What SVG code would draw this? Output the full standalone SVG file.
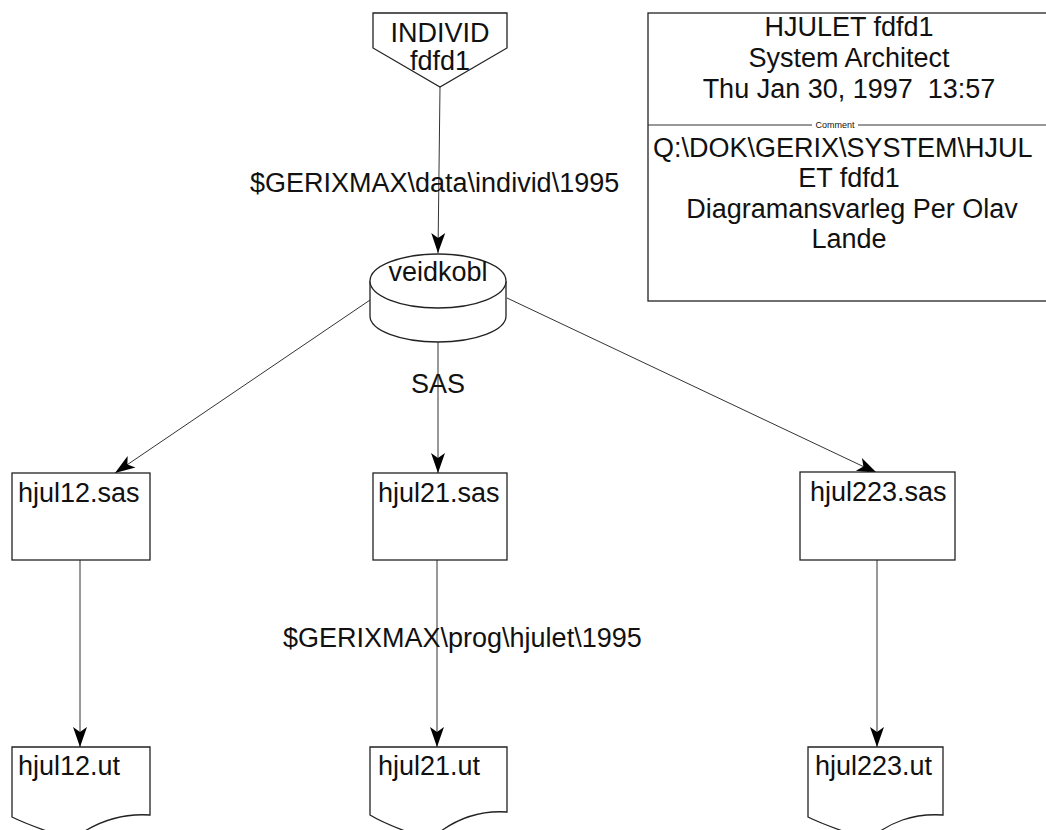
<svg xmlns="http://www.w3.org/2000/svg" width="1046" height="830" viewBox="0 0 1046 830">
<defs>
<style>
.t{font-family:"Liberation Sans",Arial,Helvetica,sans-serif;font-size:27px;fill:#111}
.c{text-anchor:middle}
.s{fill:#fff;stroke:#222;stroke-width:1.3}
.e{fill:none;stroke:#333;stroke-width:1}
</style>
<marker id="ah" markerUnits="userSpaceOnUse" markerWidth="24" markerHeight="24" viewBox="0 0 24 24" refX="22" refY="12" orient="auto">
<path d="M2,5 L22,12 L2,19 L7,12 Z" fill="#000"/>
</marker>
</defs>
<rect width="1046" height="830" fill="#fff"/>

<g id="connectors">
<line class="e" x1="440" y1="87" x2="438" y2="253" marker-end="url(#ah)"/>
<line class="e" x1="373" y1="298" x2="115" y2="473" marker-end="url(#ah)"/>
<line class="e" x1="438" y1="342" x2="438" y2="473" marker-end="url(#ah)"/>
<line class="e" x1="507" y1="298" x2="877" y2="473" marker-end="url(#ah)"/>
<line class="e" x1="80" y1="560" x2="80" y2="747" marker-end="url(#ah)"/>
<line class="e" x1="437" y1="560" x2="437" y2="747" marker-end="url(#ah)"/>
<line class="e" x1="877" y1="560" x2="877" y2="747" marker-end="url(#ah)"/>
<text class="t" x="250" y="192">$GERIXMAX\data\individ\1995</text>
<text class="t c" x="438" y="393">SAS</text>
<text class="t" x="283" y="647">$GERIXMAX\prog\hjulet\1995</text>
</g>

<g id="individ">
<polygon class="s" points="373,13 507,13 507,48 440,87 373,48"/>
<text class="t c" x="440" y="42">INDIVID</text>
<text class="t c" x="440" y="70">fdfd1</text>
</g>

<g id="veidkobl">
<path class="s" d="M370,281 L370,316 A68,26 0 0 0 506,316 L506,281"/>
<ellipse class="s" cx="438" cy="281" rx="68" ry="27"/>
<text class="t c" x="438" y="281">veidkobl</text>
</g>

<g id="hjul12sas">
<rect class="s" x="12" y="473" width="138" height="87"/>
<text class="t" x="18" y="502">hjul12.sas</text>
</g>
<g id="hjul21sas">
<rect class="s" x="373" y="473" width="134" height="87"/>
<text class="t" x="378" y="502">hjul21.sas</text>
</g>
<g id="hjul223sas">
<rect class="s" x="800" y="472" width="155" height="88"/>
<text class="t" x="810" y="501">hjul223.sas</text>
</g>

<g id="hjul12ut">
<path class="s" d="M12,747 H150 V815 C120,813 95,822 72,840 C50,832 30,826 12,817 Z"/>
<text class="t" x="18" y="775">hjul12.ut</text>
</g>
<g id="hjul21ut">
<path class="s" d="M370,747 H507 V812 C477,810 452,820 430,840 C408,832 388,826 370,815 Z"/>
<text class="t" x="378" y="775">hjul21.ut</text>
</g>
<g id="hjul223ut">
<path class="s" d="M808,747 H943 V815 C913,813 890,822 868,840 C846,832 826,826 808,817 Z"/>
<text class="t" x="815" y="775">hjul223.ut</text>
</g>

<g id="commentbox">
<rect class="s" x="648" y="13" width="420" height="288"/>
<line class="e" x1="648" y1="125" x2="812" y2="125"/>
<line class="e" x1="858" y1="125" x2="1046" y2="125"/>
<text x="835" y="128" style="font-family:'Liberation Sans',Arial,sans-serif;font-size:9px;fill:#111;text-anchor:middle">Comment</text>
<text class="t c" x="849" y="36">HJULET fdfd1</text>
<text class="t c" x="849" y="67">System Architect</text>
<text class="t c" x="849" y="98" xml:space="preserve">Thu Jan 30, 1997  13:57</text>
<text class="t" x="653" y="157">Q:\DOK\GERIX\SYSTEM\HJUL</text>
<text class="t c" x="849" y="187">ET fdfd1</text>
<text class="t c" x="852" y="218">Diagramansvarleg Per Olav</text>
<text class="t c" x="849" y="248">Lande</text>
</g>
</svg>
